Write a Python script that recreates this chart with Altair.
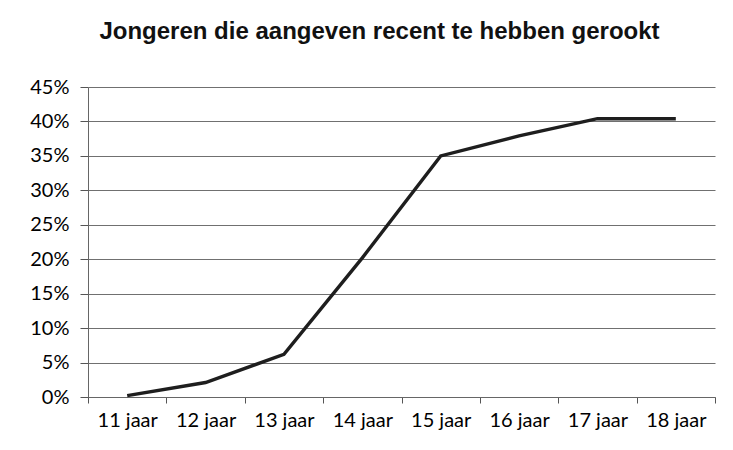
import altair as alt
import pandas as pd

ages = ["11 jaar", "12 jaar", "13 jaar", "14 jaar", "15 jaar", "16 jaar", "17 jaar", "18 jaar"]
shares = [0.002, 0.021, 0.062, 0.202, 0.350, 0.379, 0.404, 0.404]
y_ticks = [0, 0.05, 0.10, 0.15, 0.20, 0.25, 0.30, 0.35, 0.40, 0.45]

df = pd.DataFrame({"age": ages, "share": shares})

W, H = 627, 310
label_font = "Lato"

chart = alt.Chart(df).mark_line(color="#1e1e1e", strokeWidth=3.4, strokeJoin="miter").encode(
    x=alt.X(
        "age:N",
        sort=ages,
        bandPosition=0.5,
        scale=alt.Scale(type="band", paddingInner=0, paddingOuter=0),
        axis=alt.Axis(
            title=None,
            labelAngle=0,
            tickBand="extent",
            grid=False,
            tickSize=6,
            tickColor="#555",
            domainColor="#666",
            labelPadding=7,
            labelFontSize=20,
            labelFont=label_font,
            labelColor="#000",
        ),
    ),
    y=alt.Y(
        "share:Q",
        scale=alt.Scale(domain=[0, 0.45], nice=False),
        axis=alt.Axis(
            title=None,
            values=y_ticks,
            format=".0%",
            grid=True,
            gridColor="#707070",
            gridWidth=1.2,
            tickSize=8,
            tickColor="#555",
            domainColor="#666",
            labelPadding=11,
            labelFontSize=20,
            labelFont=label_font,
            labelColor="#000",
        ),
    ),
).properties(
    width=W,
    height=H,
    title=alt.TitleParams(
        "Jongeren die aangeven recent te hebben gerookt",
        font="Liberation Sans",
        fontSize=24,
        fontWeight="bold",
        color="#111",
        anchor="middle",
        dx=-22,
        offset=33,
    ),
    autosize=alt.AutoSizeParams(type="none"),
    padding={"left": 80, "top": 79, "right": 10, "bottom": 40},
).configure_view(stroke=None)

chart.save("out.html", embed_options={"renderer": "svg", "actions": False})
